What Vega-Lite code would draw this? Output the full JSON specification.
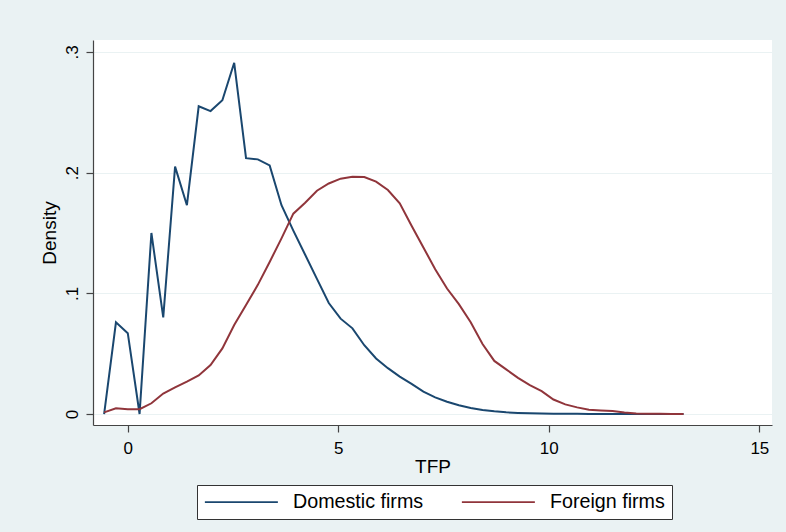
{
  "$schema": "https://vega.github.io/schema/vega-lite/v6.json",
  "width": 679,
  "height": 385,
  "autosize": {"type": "none"},
  "padding": {"left": 93, "top": 40, "right": 14, "bottom": 107},
  "background": "#EAF2F3",
  "view": {"fill": "white", "stroke": null},
  "config": {
    "font": "Liberation Sans",
    "axis": {"labelFont": "Liberation Sans", "titleFont": "Liberation Sans", "labelColor": "#000", "titleColor": "#000", "domainColor": "#444", "tickColor": "#444", "domainWidth": 1.2, "tickWidth": 1.2, "tickSize": 7, "titleFontWeight": "normal"},
    "legend": {"labelFont": "Liberation Sans"}
  },
  "data": {
    "values": [
      {"tfp": -0.56, "density": 0.0, "group": "Domestic firms"},
      {"tfp": -0.279, "density": 0.076, "group": "Domestic firms"},
      {"tfp": 0.002, "density": 0.067, "group": "Domestic firms"},
      {"tfp": 0.282, "density": 0.0, "group": "Domestic firms"},
      {"tfp": 0.563, "density": 0.15, "group": "Domestic firms"},
      {"tfp": 0.844, "density": 0.08, "group": "Domestic firms"},
      {"tfp": 1.125, "density": 0.205, "group": "Domestic firms"},
      {"tfp": 1.406, "density": 0.173, "group": "Domestic firms"},
      {"tfp": 1.686, "density": 0.255, "group": "Domestic firms"},
      {"tfp": 1.967, "density": 0.251, "group": "Domestic firms"},
      {"tfp": 2.248, "density": 0.26, "group": "Domestic firms"},
      {"tfp": 2.529, "density": 0.291, "group": "Domestic firms"},
      {"tfp": 2.81, "density": 0.212, "group": "Domestic firms"},
      {"tfp": 3.09, "density": 0.211, "group": "Domestic firms"},
      {"tfp": 3.371, "density": 0.206, "group": "Domestic firms"},
      {"tfp": 3.652, "density": 0.173, "group": "Domestic firms"},
      {"tfp": 3.933, "density": 0.152, "group": "Domestic firms"},
      {"tfp": 4.214, "density": 0.132, "group": "Domestic firms"},
      {"tfp": 4.494, "density": 0.112, "group": "Domestic firms"},
      {"tfp": 4.775, "density": 0.092, "group": "Domestic firms"},
      {"tfp": 5.056, "density": 0.079, "group": "Domestic firms"},
      {"tfp": 5.337, "density": 0.071, "group": "Domestic firms"},
      {"tfp": 5.618, "density": 0.057, "group": "Domestic firms"},
      {"tfp": 5.898, "density": 0.046, "group": "Domestic firms"},
      {"tfp": 6.179, "density": 0.038, "group": "Domestic firms"},
      {"tfp": 6.46, "density": 0.031, "group": "Domestic firms"},
      {"tfp": 6.741, "density": 0.025, "group": "Domestic firms"},
      {"tfp": 7.022, "density": 0.0185, "group": "Domestic firms"},
      {"tfp": 7.302, "density": 0.0138, "group": "Domestic firms"},
      {"tfp": 7.583, "density": 0.0102, "group": "Domestic firms"},
      {"tfp": 7.864, "density": 0.0072, "group": "Domestic firms"},
      {"tfp": 8.145, "density": 0.005, "group": "Domestic firms"},
      {"tfp": 8.426, "density": 0.0033, "group": "Domestic firms"},
      {"tfp": 8.706, "density": 0.0022, "group": "Domestic firms"},
      {"tfp": 8.987, "density": 0.0014, "group": "Domestic firms"},
      {"tfp": 9.268, "density": 0.0009, "group": "Domestic firms"},
      {"tfp": 9.549, "density": 0.0006, "group": "Domestic firms"},
      {"tfp": 9.83, "density": 0.0004, "group": "Domestic firms"},
      {"tfp": 10.11, "density": 0.0003, "group": "Domestic firms"},
      {"tfp": 10.391, "density": 0.0002, "group": "Domestic firms"},
      {"tfp": 10.672, "density": 0.0002, "group": "Domestic firms"},
      {"tfp": 10.953, "density": 0.0001, "group": "Domestic firms"},
      {"tfp": 11.234, "density": 0.0001, "group": "Domestic firms"},
      {"tfp": 11.514, "density": 0.0001, "group": "Domestic firms"},
      {"tfp": 11.795, "density": 0.0, "group": "Domestic firms"},
      {"tfp": 12.076, "density": 0.0, "group": "Domestic firms"},
      {"tfp": 12.357, "density": 0.0, "group": "Domestic firms"},
      {"tfp": 12.638, "density": 0.0, "group": "Domestic firms"},
      {"tfp": 12.918, "density": 0.0, "group": "Domestic firms"},
      {"tfp": 13.199, "density": 0.0, "group": "Domestic firms"},
      {"tfp": -0.56, "density": 0.0014, "group": "Foreign firms"},
      {"tfp": -0.279, "density": 0.0047, "group": "Foreign firms"},
      {"tfp": 0.002, "density": 0.0039, "group": "Foreign firms"},
      {"tfp": 0.282, "density": 0.004, "group": "Foreign firms"},
      {"tfp": 0.563, "density": 0.0089, "group": "Foreign firms"},
      {"tfp": 0.844, "density": 0.017, "group": "Foreign firms"},
      {"tfp": 1.125, "density": 0.022, "group": "Foreign firms"},
      {"tfp": 1.406, "density": 0.0268, "group": "Foreign firms"},
      {"tfp": 1.686, "density": 0.032, "group": "Foreign firms"},
      {"tfp": 1.967, "density": 0.0406, "group": "Foreign firms"},
      {"tfp": 2.248, "density": 0.0544, "group": "Foreign firms"},
      {"tfp": 2.529, "density": 0.0737, "group": "Foreign firms"},
      {"tfp": 2.81, "density": 0.0903, "group": "Foreign firms"},
      {"tfp": 3.09, "density": 0.107, "group": "Foreign firms"},
      {"tfp": 3.371, "density": 0.126, "group": "Foreign firms"},
      {"tfp": 3.652, "density": 0.1455, "group": "Foreign firms"},
      {"tfp": 3.933, "density": 0.166, "group": "Foreign firms"},
      {"tfp": 4.214, "density": 0.175, "group": "Foreign firms"},
      {"tfp": 4.494, "density": 0.185, "group": "Foreign firms"},
      {"tfp": 4.775, "density": 0.191, "group": "Foreign firms"},
      {"tfp": 5.056, "density": 0.195, "group": "Foreign firms"},
      {"tfp": 5.337, "density": 0.1966, "group": "Foreign firms"},
      {"tfp": 5.618, "density": 0.1963, "group": "Foreign firms"},
      {"tfp": 5.898, "density": 0.1925, "group": "Foreign firms"},
      {"tfp": 6.179, "density": 0.1856, "group": "Foreign firms"},
      {"tfp": 6.46, "density": 0.1746, "group": "Foreign firms"},
      {"tfp": 6.741, "density": 0.156, "group": "Foreign firms"},
      {"tfp": 7.022, "density": 0.138, "group": "Foreign firms"},
      {"tfp": 7.302, "density": 0.12, "group": "Foreign firms"},
      {"tfp": 7.583, "density": 0.104, "group": "Foreign firms"},
      {"tfp": 7.864, "density": 0.091, "group": "Foreign firms"},
      {"tfp": 8.145, "density": 0.076, "group": "Foreign firms"},
      {"tfp": 8.426, "density": 0.058, "group": "Foreign firms"},
      {"tfp": 8.706, "density": 0.044, "group": "Foreign firms"},
      {"tfp": 8.987, "density": 0.037, "group": "Foreign firms"},
      {"tfp": 9.268, "density": 0.03, "group": "Foreign firms"},
      {"tfp": 9.549, "density": 0.024, "group": "Foreign firms"},
      {"tfp": 9.83, "density": 0.019, "group": "Foreign firms"},
      {"tfp": 10.11, "density": 0.012, "group": "Foreign firms"},
      {"tfp": 10.391, "density": 0.008, "group": "Foreign firms"},
      {"tfp": 10.672, "density": 0.0055, "group": "Foreign firms"},
      {"tfp": 10.953, "density": 0.0035, "group": "Foreign firms"},
      {"tfp": 11.234, "density": 0.003, "group": "Foreign firms"},
      {"tfp": 11.514, "density": 0.0025, "group": "Foreign firms"},
      {"tfp": 11.795, "density": 0.0012, "group": "Foreign firms"},
      {"tfp": 12.076, "density": 0.0005, "group": "Foreign firms"},
      {"tfp": 12.357, "density": 0.0003, "group": "Foreign firms"},
      {"tfp": 12.638, "density": 0.0002, "group": "Foreign firms"},
      {"tfp": 12.918, "density": 0.0001, "group": "Foreign firms"},
      {"tfp": 13.199, "density": 0.0001, "group": "Foreign firms"}
    ]
  },
  "mark": {"type": "line", "strokeWidth": 2, "clip": true},
  "encoding": {
    "x": {
      "field": "tfp", "type": "quantitative",
      "scale": {"domain": [-0.824, 15.3], "nice": false, "zero": false},
      "axis": {"title": "TFP", "values": [0, 5, 10, 15], "grid": false, "labelFontSize": 17, "titleFontSize": 19, "labelPadding": 8, "titlePadding": 1}
    },
    "y": {
      "field": "density", "type": "quantitative",
      "scale": {"domain": [-0.0091, 0.3099], "nice": false, "zero": false},
      "axis": {
        "title": "Density", "values": [0, 0.1, 0.2, 0.3],
        "labelExpr": "datum.value == 0 ? '0' : '.' + format(round(datum.value * 10), 'd')",
        "labelAngle": -90, "labelAlign": "center", "labelBaseline": "bottom",
        "labelFontSize": 17, "titleFontSize": 19, "labelPadding": 5, "titlePadding": 4,
        "grid": true, "gridColor": "#EAF2F3", "gridWidth": 1.2
      }
    },
    "color": {
      "field": "group", "type": "nominal",
      "scale": {"domain": ["Domestic firms", "Foreign firms"], "range": ["#1a476f", "#90353b"]},
      "legend": {
        "title": null, "orient": "none", "legendX": 104, "legendY": 445,
        "direction": "horizontal", "columns": 2, "columnPadding": 34,
        "symbolType": "M-1,0L7,0", "symbolSize": 333, "symbolStrokeWidth": 1.6, "symbolFillColor": "transparent",
        "labelFontSize": 19.7, "labelOffset": 69, "labelColor": "#000",
        "padding": 7, "fillColor": "white", "strokeColor": "#333", "cornerRadius": 0
      }
    }
  }
}
